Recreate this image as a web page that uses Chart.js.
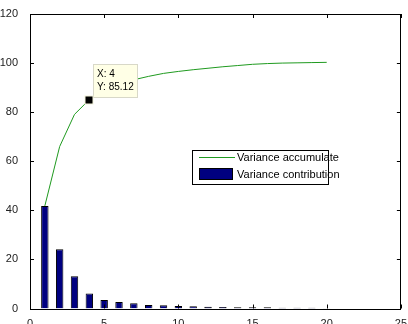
<!DOCTYPE html>
<html>
<head>
<meta charset="utf-8">
<script src="https://cdn.jsdelivr.net/npm/chart.js@4"></script>
<style>
  html, body { margin: 0; padding: 0; background: #fff; }
  #wrap { width: 408px; height: 324px; position: relative; }
</style>
</head>
<body>
<div id="wrap"><canvas id="pca"></canvas></div>
<script>
// component index
const components = [1, 2, 3, 4, 5, 6, 7, 8, 9, 10, 11, 12, 13, 14, 15, 16, 17, 18, 19, 20];
// variance contribution of each component (%)
const contribution = [41.8, 24.1, 13.1, 6.12, 3.5, 2.6, 2.1, 1.4, 1.3, 1.0, 0.9, 0.7, 0.6, 0.5, 0.5, 0.5, 0.3, 0.3, 0.3, 0.1];
// accumulated variance (%)
const accumulate = [41.8, 66.0, 79.1, 85.12, 88.6, 91.2, 93.2, 94.6, 95.8, 96.6, 97.3, 97.9, 98.5, 99.0, 99.5, 99.8, 100.0, 100.1, 100.2, 100.3];
const xTicks = [0, 5, 10, 15, 20, 25];
const yTicks = [0, 20, 40, 60, 80, 100, 120];
const tipIndex = 3;

const FONT = '"Liberation Sans", Arial, sans-serif';

const boxAndTicks = {
  id: 'boxAndTicks',
  afterDraw(chart) {
    const { ctx, chartArea: a, scales } = chart;
    ctx.save();
    ctx.strokeStyle = '#000';
    ctx.lineWidth = 1;
    ctx.strokeRect(Math.round(a.left) + 0.5, Math.round(a.top) + 0.5,
      Math.round(a.right - a.left) - 1, Math.round(a.bottom - a.top));
    ctx.beginPath();
    xTicks.forEach(v => {
      const px = Math.round(scales.x.getPixelForValue(v)) + 0.5;
      ctx.moveTo(px, a.bottom); ctx.lineTo(px, a.bottom - 4);
      ctx.moveTo(px, a.top); ctx.lineTo(px, a.top + 4);
    });
    yTicks.forEach(v => {
      const py = Math.round(scales.y.getPixelForValue(v)) + 0.5;
      ctx.moveTo(a.left, py); ctx.lineTo(a.left + 4, py);
      ctx.moveTo(a.right, py); ctx.lineTo(a.right - 4, py);
    });
    ctx.stroke();

    // legend
    const lx = 192, ly = 150, lw = 136, lh = 34;
    ctx.fillStyle = '#fff';
    ctx.fillRect(lx, ly, lw, lh);
    ctx.strokeStyle = '#000';
    ctx.strokeRect(lx + 0.5, ly + 0.5, lw, lh);
    ctx.strokeStyle = '#1f9a1f';
    ctx.beginPath();
    ctx.moveTo(199, 157.5); ctx.lineTo(235, 157.5);
    ctx.stroke();
    ctx.fillStyle = '#000080';
    ctx.fillRect(199, 168, 34, 12);
    ctx.strokeStyle = '#000';
    ctx.strokeRect(199.5, 168.5, 33, 11);
    ctx.fillStyle = '#000';
    ctx.font = '11px ' + FONT;
    ctx.textBaseline = 'middle';
    ctx.fillText(chart.data.datasets[1].label, 237, 158);
    ctx.fillText(chart.data.datasets[0].label, 237, 175);

    // data tip
    const tx = scales.x.getPixelForValue(components[tipIndex]);
    const ty = scales.y.getPixelForValue(accumulate[tipIndex]);
    const bx = Math.round(tx) + 4, by = Math.round(ty) - 36;
    ctx.fillStyle = '#ffffe6';
    ctx.fillRect(bx, by, 44, 33);
    ctx.strokeStyle = '#d8d8c8';
    ctx.strokeRect(bx + 0.5, by + 0.5, 44, 33);
    ctx.fillStyle = '#000';
    ctx.font = '10px ' + FONT;
    ctx.fillText('X: ' + components[tipIndex], bx + 4, by + 10);
    ctx.fillText('Y: ' + accumulate[tipIndex].toFixed(2), bx + 4, by + 23);
    ctx.fillStyle = '#f4f4dc';
    ctx.fillRect(Math.round(tx) - 4.5, Math.round(ty) - 4.5, 9, 9);
    ctx.fillStyle = '#000';
    ctx.fillRect(Math.round(tx) - 3.5, Math.round(ty) - 3.5, 7, 7);
    ctx.restore();
  }
};

new Chart(document.getElementById('pca'), {
  data: {
    datasets: [
      {
        type: 'bar',
        label: 'Variance contribution',
        data: components.map((c, i) => ({ x: c, y: contribution[i] })),
        backgroundColor: '#000080',
        borderColor: '#000',
        borderWidth: 1,
        barPercentage: 0.5,
        categoryPercentage: 1,
        order: 2
      },
      {
        type: 'line',
        label: 'Variance accumulate',
        data: components.map((c, i) => ({ x: c, y: accumulate[i] })),
        borderColor: '#1f9a1f',
        borderWidth: 1,
        pointRadius: 0,
        tension: 0,
        order: 1
      }
    ]
  },
  options: {
    responsive: true,
    maintainAspectRatio: false,
    animation: false,
    layout: { padding: { top: 14, right: 4, left: 0, bottom: 0 } },
    plugins: { legend: { display: false }, tooltip: { enabled: false } },
    scales: {
      x: {
        type: 'linear', min: 0, max: 25, offset: false,
        afterBuildTicks: s => { s.ticks = xTicks.map(v => ({ value: v })); },
        afterFit: s => { s.height = 15.5; },
        grid: { display: false, offset: false },
        border: { display: false },
        ticks: { color: '#222', padding: 1, maxRotation: 0, font: { family: FONT, size: 11 } }
      },
      y: {
        min: 0, max: 120,
        afterBuildTicks: s => { s.ticks = yTicks.map(v => ({ value: v })); },
        afterFit: s => { s.width = 30; },
        grid: { display: false },
        border: { display: false },
        ticks: { color: '#222', padding: 4, font: { family: FONT, size: 11 } }
      }
    }
  },
  plugins: [boxAndTicks]
});
</script>
</body>
</html>
